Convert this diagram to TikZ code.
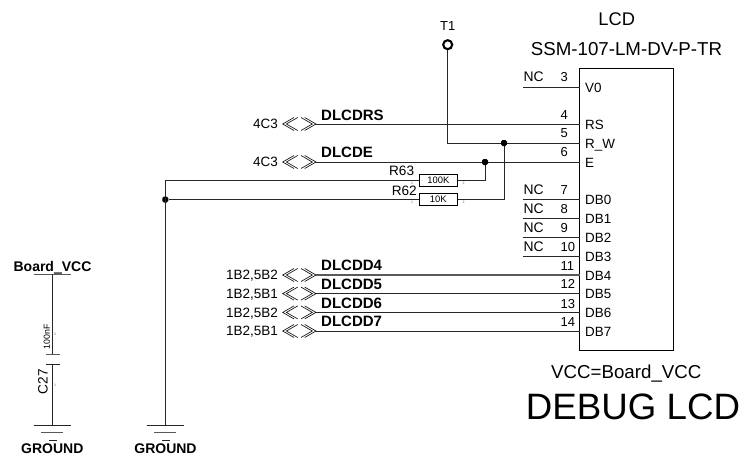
\documentclass[tikz,border=0pt]{standalone}
\usepackage{fontspec}
\setmainfont{Liberation Sans}
\tikzset{
  txt/.style={font=\fontsize{#1}{#1}\selectfont, inner sep=0pt, text depth=0pt, text height=0.716*#1pt, text=black},
  btxt/.style={font=\fontsize{#1}{#1}\selectfont\bfseries, inner sep=0pt, text depth=0pt, text height=0.716*#1pt, text=black},
  wire/.style={line width=1pt, draw=black!85},
  thick wire/.style={line width=1.3pt, draw=black!65},
  chev/.style={line width=0.65pt, draw=black!95},
  resbox/.style={draw=black, line width=0.9pt, minimum width=38pt, minimum height=12.4pt, inner sep=0pt, font=\fontsize{9.4}{9.4}\selectfont, text=black},
  dotj/.style={rectangle, rounded corners=1.6pt, fill=black, inner sep=0pt, minimum size=6pt},
  tiny/.style={font=\fontsize{3.5}{3.5}\selectfont, inner sep=0pt, text=black!60},
  lcdbox/.style={draw=black, line width=1pt, minimum width=93.8pt, minimum height=282pt, inner sep=0pt}
}
\newcommand{\bidir}[4]{% name, y, label, net
  \node[txt=13.5, anchor=east] (#1lab) at (278,#2) {#3};
  \draw[chev] (294,#2-6.5) -- (282.7,#2) -- (294,#2+6.5);
  \draw[chev] (297.7,#2-6.5) -- (286.4,#2) -- (297.7,#2+6.5);
  \draw[chev] (304.7,#2-6.5) -- (316,#2) -- (304.7,#2+6.5);
  \draw[chev] (301,#2-6.5) -- (312.3,#2) -- (301,#2+6.5);
  \coordinate (#1) at (316,#2);
}
\newcommand{\pinn}[5]{% name, wire y, number, number y, label
  \coordinate (#1) at (579.5,#2);
  \node[txt=13, anchor=west] (#1num) at (560.5,#4) {#3};
  \node[txt=13.4, anchor=west] (#1lab) at (585,#2+0.5) {#5};
}
\newcommand{\ncpin}[5]{%
  \pinn{#1}{#2}{#3}{#4}{#5}
  \node[txt=13.9, anchor=west] (#1nc) at (523.3,#4) {NC};
  \coordinate (#1s) at (523,#2);
  \draw[wire] (#1s) -- (#1);
}
\newcommand{\gnd}[3]{% name, x, text centre x
  \coordinate (#1) at (#2,425);
  \draw[wire] (#2-18.7,425) -- (#2+18.7,425);
  \draw[thick wire] (#2-11,432.8) -- (#2+11,432.8);
  \draw[wire] (#2-3,440.2) -- (#2+4.2,440.2);
  \node[btxt=14, anchor=center] (#1lab) at (#3,448) {GROUND};
}
\begin{document}
\begin{tikzpicture}[x=1pt,y=-1pt]
\useasboundingbox (0,0) rectangle (746,461);
% LCD box
\node[lcdbox] (lcd) at (626.4,209) {};
\node[txt=18.3] (lcdt) at (616.7,19.3) {LCD};
\node[txt=18.7] (part) at (626.5,49) {SSM-107-LM-DV-P-TR};
\node[txt=18.7] (vcc) at (626.3,371.7) {VCC=Board\_VCC};
\node[txt=36.7] (dbg) at (633,406.7) {DEBUG LCD};
% pins
\ncpin{p3}{87}{3}{77}{V0}
\pinn{p4}{124}{4}{115}{RS}
\pinn{p5}{143}{5}{133}{R\_W}
\pinn{p6}{162}{6}{152}{E}
\ncpin{p7}{199.5}{7}{190}{DB0}
\ncpin{p8}{218.3}{8}{209}{DB1}
\ncpin{p9}{237}{9}{227.5}{DB2}
\ncpin{p10}{256}{10}{246.7}{DB3}
\pinn{p11}{275}{11}{265.7}{DB4}
\pinn{p12}{293.6}{12}{284.3}{DB5}
\pinn{p13}{312.4}{13}{303.5}{DB6}
\pinn{p14}{331}{14}{321.7}{DB7}
% nets
\bidir{a1}{124}{4C3}{}
\bidir{a2}{162}{4C3}{}
\bidir{a3}{275}{1B2,5B2}{}
\bidir{a4}{293.6}{1B2,5B1}{}
\bidir{a5}{312.4}{1B2,5B2}{}
\bidir{a6}{331}{1B2,5B1}{}
\draw[wire] (a1) -- (p4);
\draw[wire] (a2) -- (p6);
\draw[thick wire] (a3) -- (p11);
\draw[wire] (a4) -- (p12);
\draw[wire] (a5) -- (p13);
\draw[wire] (a6) -- (p14);
\node[btxt=15, anchor=west] (n1) at (321,114.7) {DLCDRS};
\node[btxt=15, anchor=west] (n2) at (321,152) {DLCDE};
\node[btxt=15, anchor=west] (n3) at (321,265) {DLCDD4};
\node[btxt=15, anchor=west] (n4) at (321,284) {DLCDD5};
\node[btxt=15, anchor=west] (n5) at (321,303) {DLCDD6};
\node[btxt=15, anchor=west] (n6) at (321,321.6) {DLCDD7};
% T1
\node[txt=13] (t1lab) at (447.7,26) {T1};
\node[circle, draw=black, line width=2.1pt, minimum size=9pt, inner sep=0pt] (t1) at (447.7,44.7) {};
\node[dotj] (j1) at (504,143) {};
\node[dotj] (j2) at (485,162) {};
\draw[wire] (t1.south) |- (j1);
\draw[wire] (j1) -- (p5);
% resistors
\node[resbox] (r63) at (438.3,180.5) {100K};
\node[resbox] (r62) at (438.3,199.5) {10K};
\node[txt=13.6, anchor=east] (r63l) at (414.3,171) {R63};
\node[txt=13.6, anchor=east] (r62l) at (417,191) {R62};
\node[tiny] (r63a) at (412,183) {1};
\node[tiny] (r63b) at (463.7,183) {2};
\node[tiny] (r62a) at (412,202) {1};
\node[tiny] (r62b) at (463.7,202) {2};
\draw[wire] (r63.east) -| (j2);
\draw[wire] (r62.east) -| (j1);
% left bus
\gnd{g2}{165.3}{165.5}
\node[dotj] (j3) at (165.3,199.5) {};
\draw[wire] (r62.west) -- (j3);
\draw[wire] (r63.west) -| (g2);
% capacitor
\gnd{g1}{52.3}{52.3}
\node[btxt=14] (bv) at (52.5,266) {Board\_VCC};
\coordinate (vt) at (52.3,274.3);
\draw[thick wire] (33.7,274.3) -- (71,274.3);
\draw[thick wire] (54,273.4) -- (61.7,273.4);
\coordinate (c1) at (52.3,354.7);
\coordinate (c2) at (52.3,364);
\draw[wire] (vt) -- (c1);
\draw[wire] (c2) -- (g1);
\draw[thick wire] (46,354.7) -- (59.5,354.7);
\draw[wire] (46,364) -- (59.5,364);
\node[txt=8.8, rotate=90] (cv) at (46.7,337) {100nF};
\node[txt=13.6, rotate=90] (cn) at (42.7,381.7) {C27};
\node[tiny] (ca) at (55,334) {2};
\node[tiny] (cb) at (55,385) {1};
\end{tikzpicture}
\end{document}
